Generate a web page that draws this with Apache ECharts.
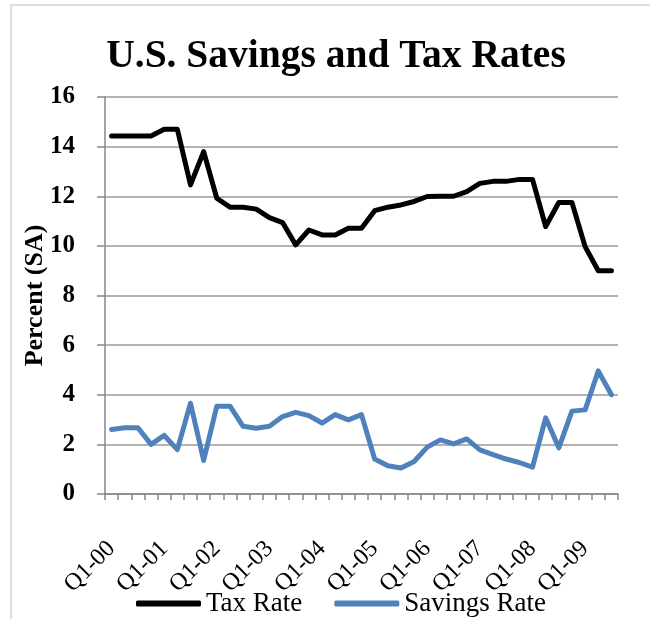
<!DOCTYPE html>
<html>
<head>
<meta charset="utf-8">
<script src="https://cdn.jsdelivr.net/npm/echarts@6/dist/echarts.min.js"></script>
<style>html,body{margin:0;padding:0;background:#fff}#chart{width:650px;height:619px}</style>
</head>
<body>
<div id="chart"></div>
<script>
var categories = ['Q1-00','Q2-00','Q3-00','Q4-00','Q1-01','Q2-01','Q3-01','Q4-01',
  'Q1-02','Q2-02','Q3-02','Q4-02','Q1-03','Q2-03','Q3-03','Q4-03',
  'Q1-04','Q2-04','Q3-04','Q4-04','Q1-05','Q2-05','Q3-05','Q4-05',
  'Q1-06','Q2-06','Q3-06','Q4-06','Q1-07','Q2-07','Q3-07','Q4-07',
  'Q1-08','Q2-08','Q3-08','Q4-08','Q1-09','Q2-09','Q3-09'];
var taxRate = [14.43,14.43,14.43,14.43,14.7,14.7,12.46,13.8,
  11.92,11.56,11.56,11.48,11.14,10.94,10.04,10.64,
  10.44,10.44,10.71,10.71,11.42,11.56,11.65,11.79,
  11.99,12.0,12.0,12.19,12.52,12.6,12.6,12.68,
  12.68,10.78,11.75,11.75,9.97,9.0,9.0];
var savingsRate = [2.6,2.67,2.67,2.0,2.36,1.79,3.66,1.35,
  3.54,3.54,2.73,2.65,2.73,3.12,3.29,3.16,
  2.86,3.2,2.99,3.2,1.41,1.14,1.05,1.31,
  1.89,2.18,2.02,2.22,1.78,1.59,1.41,1.27,
  1.08,3.07,1.86,3.34,3.39,4.96,4.0];
var yTicks = {min:0, max:16, interval:2};

var serif = '"Liberation Serif", "DejaVu Serif", serif';
var chart = echarts.init(document.getElementById('chart'), null, {renderer:'canvas'});
chart.setOption({
  animation:false,
  backgroundColor:'#fff',
  graphic:[{type:'rect', shape:{x:11,y:5,width:700,height:700}, style:{fill:'none', stroke:'#d2d2d2', lineWidth:1.5}, silent:true}],
  title:{text:'U.S. Savings and Tax Rates', left:331, textAlign:'center', top:32,
    textStyle:{fontFamily:serif, fontWeight:'bold', fontSize:39.5, color:'#000'}},
  legend:{left:131, top:585, itemWidth:65, itemHeight:6, itemGap:32, icon:'roundRect',
    textStyle:{fontFamily:serif, fontSize:27, color:'#000'},
    data:['Tax Rate','Savings Rate']},
  grid:{left:105, right:32, top:97, bottom:125, containLabel:false},
  xAxis:{type:'category', data:categories, boundaryGap:true,
    axisLine:{lineStyle:{color:'#868686', width:1.5}},
    axisTick:{show:true, interval:0, length:6, lineStyle:{color:'#868686', width:1.5}},
    axisLabel:{interval:3, rotate:45, margin:51, fontFamily:serif, fontSize:24, color:'#000'},
    splitLine:{show:false}},
  yAxis:{type:'value', min:yTicks.min, max:yTicks.max, interval:yTicks.interval,
    name:'Percent (SA)', nameLocation:'middle', nameGap:57, nameRotate:90, nameMoveOverlap:false,
    nameTextStyle:{fontFamily:serif, fontWeight:'bold', fontSize:26, color:'#000'},
    axisLine:{show:true, lineStyle:{color:'#868686', width:1.5}},
    axisTick:{show:true, length:8, lineStyle:{color:'#868686', width:1.5}},
    axisLabel:{margin:30, fontFamily:serif, fontWeight:'bold', fontSize:25, color:'#000'},
    splitLine:{lineStyle:{color:'#9a9a9a', width:1.5}}},
  series:[
    {name:'Tax Rate', type:'line', data:taxRate, symbol:'none', color:'#000',
     lineStyle:{color:'#000', width:5, join:'round', cap:'round'}},
    {name:'Savings Rate', type:'line', data:savingsRate, symbol:'none', color:'#4F81BD',
     lineStyle:{color:'#4F81BD', width:5, join:'round', cap:'round'}}
  ]
});
</script>
</body>
</html>
